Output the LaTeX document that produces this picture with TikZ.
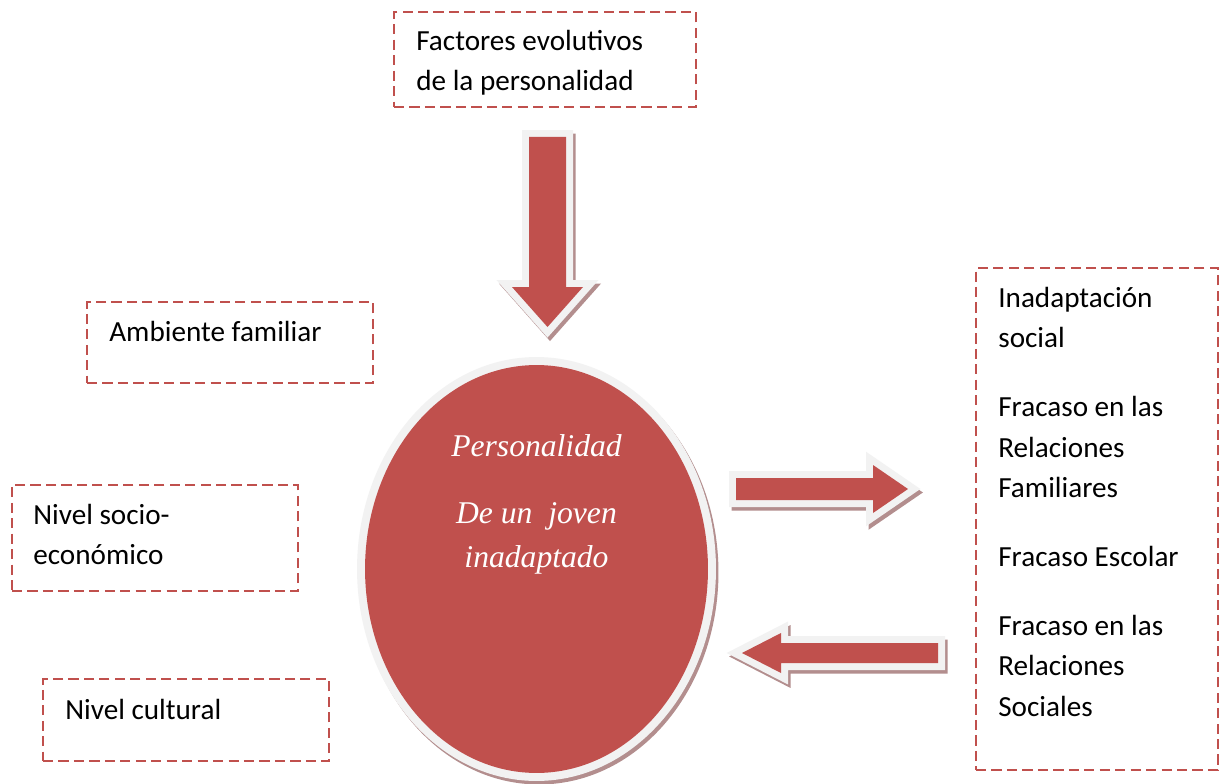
\documentclass[tikz,border=0pt]{standalone}
\usepackage{fontspec}
\setmainfont{Carlito}
\newfontfamily\timesit{Liberation Serif}
\usetikzlibrary{shapes.geometric,fit}
\definecolor{rojo}{HTML}{C0504D}
\definecolor{borde}{HTML}{F2F2F2}
\definecolor{sombra}{HTML}{B38E8E}
\begin{document}
\begin{tikzpicture}[x=0.02cm,y=-0.02cm,
    caja/.style={draw=rojo,line width=1.5pt,dash pattern=on 5.8pt off 3pt,inner sep=0pt},
    texto/.style={anchor=north west,inner sep=0pt,align=left,font=\fontsize{16.6}{23}\selectfont},
    relieve/.style={fill=rojo,line join=miter,
      preaction={fill=sombra,draw=sombra,line join=miter,line width=#1,transform canvas={xshift=0.05cm,yshift=-0.07cm}},
      preaction={draw=borde,line join=miter,line width=#1}},
    persona/.style={ellipse,minimum width=6.86cm,minimum height=8.16cm,inner sep=0pt,relieve=0.32cm}]
    \useasboundingbox (0,0) rectangle (1224,784);
    \fill[white] (0,0) rectangle (1224,784);
    \node[caja,fit={(394,12) (696,107)}] (cajaFactores) {};
    \node[caja,fit={(87,302) (373,383)}] (cajaAmbiente) {};
    \node[caja,fit={(12,485) (298,591)}] (cajaSocio) {};
    \node[caja,fit={(43,679) (329,761)}] (cajaCultural) {};
    \node[caja,fit={(976,268) (1218,770)}] (cajaEfectos) {};
    \node[texto] (factores) at (416,21.7) {\strut Factores evolutivos\\de la personalidad};
    \node[texto] (ambiente) at (109,312.7) {\strut Ambiente familiar};
    \node[texto] (socio) at (33,495.7) {\strut Nivel socio-\\económico};
    \node[texto] (cultural) at (65,690.7) {\strut Nivel cultural};
    \node[texto] (efectos) at (998,278.7) {\strut Inadaptación\\social\\[16.2pt]Fracaso en las\\Relaciones\\Familiares\\[16.2pt]Fracaso Escolar\\[16.2pt]Fracaso en las\\Relaciones\\Sociales};
    \node[persona] (perso) at (536.5,569) {};
    \node[anchor=north,inner sep=0pt,align=center,text=white,font=\timesit\itshape\fontsize{18}{25}\selectfont] (lema) at (536.5,425) {\strut Personalidad\\[13.6pt]De un~ joven\\inadaptado};
    \path[relieve=0.28cm] (529,137) -- (566,137) -- (566,287) -- (583,287) -- (547.5,327) -- (512,287) -- (529,287) -- cycle;
    \path[relieve=0.28cm] (736,478) -- (873,478) -- (873,465) -- (908,489) -- (873,513) -- (873,500) -- (736,500) -- cycle;
    \path[relieve=0.28cm] (938,643) -- (781,643) -- (781,633) -- (742,653) -- (781,673) -- (781,663) -- (938,663) -- cycle;
\end{tikzpicture}
\end{document}
